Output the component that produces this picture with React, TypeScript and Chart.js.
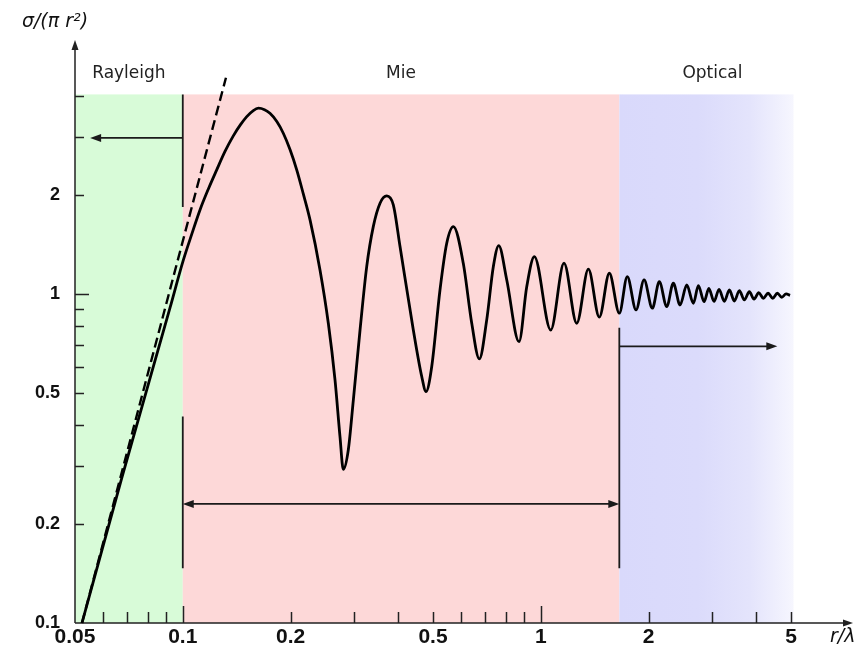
import React, { useEffect, useRef } from 'react';
import { Chart, registerables } from 'chart.js';

Chart.register(...registerables);

// ---- data ----
const curveX = [0.0523, 0.0675, 0.0921, 0.1004, 0.1059, 0.1117, 0.1179, 0.1244, 0.1312, 0.1384, 0.1448, 0.1509, 0.1574, 0.1626, 0.1692, 0.1752, 0.1831, 0.1909, 0.1993, 0.2081, 0.2171, 0.2267, 0.2417, 0.255, 0.2662, 0.2749, 0.2808, 0.29, 0.2995, 0.3127, 0.3264, 0.3405, 0.3556, 0.3713, 0.3873, 0.4044, 0.4405, 0.465, 0.478, 0.4958, 0.5229, 0.5461, 0.57, 0.6074, 0.6414, 0.6735, 0.7063, 0.737, 0.763, 0.8034, 0.8693, 0.9135, 0.9594, 1.066, 1.161, 1.26, 1.358, 1.457, 1.554, 1.657, 1.744, 1.845, 1.943, 2.049, 2.143, 2.248, 2.345, 2.449, 2.557, 2.668, 2.755, 2.858, 2.947, 3.047, 3.147, 3.256, 3.363, 3.472, 3.586, 3.703, 3.824, 3.941, 4.063, 4.184, 4.313, 4.445, 4.578, 4.71, 4.842, 4.968];
const curveY = [0.1, 0.275, 0.907, 1.269, 1.517, 1.8, 2.085, 2.383, 2.711, 3.023, 3.264, 3.459, 3.609, 3.668, 3.63, 3.539, 3.342, 3.079, 2.746, 2.383, 2.014, 1.679, 1.183, 0.8145, 0.548, 0.368, 0.293, 0.336, 0.476, 0.777, 1.211, 1.602, 1.887, 1.986, 1.865, 1.393, 0.777, 0.561, 0.505, 0.601, 1.028, 1.426, 1.602, 1.24, 0.8145, 0.6345, 0.834, 1.211, 1.402, 1.103, 0.716, 1.052, 1.298, 0.777, 1.24, 0.8145, 1.189, 0.85, 1.156, 0.874, 1.129, 0.894, 1.103, 0.905, 1.09, 0.915, 1.078, 0.926, 1.065, 0.937, 1.06, 0.9475, 1.039, 0.949, 1.033, 0.95, 1.028, 0.952, 1.023, 0.959, 1.016, 0.964, 1.009, 0.97, 1.005, 0.97, 1.005, 0.977, 1.0, 0.99];

const rayleighX = [0.0523, 0.132];
const rayleighY = [0.1, 4.54];

const regionNames = ['Rayleigh', 'Mie', 'Optical'];
const regionEdges = [0.05, 0.1, 1.657, 5.08];
const regionTop = 4.04;

const xLabelValues = [0.05, 0.1, 0.2, 0.5, 1, 2, 5];
const yLabelValues = [0.1, 0.2, 0.5, 1, 2];
const xTickMarks = [0.06, 0.07, 0.08, 0.09, 0.1, 0.2, 0.3, 0.4, 0.5, 0.6, 0.7, 0.8, 0.9, 1, 2, 3, 4, 5];
const yTickMarks = [0.2, 0.3, 0.4, 0.5, 0.6, 0.7, 0.8, 0.9, 1, 2, 3, 4];
const xLongTicks = [0.1, 1];
const yLongTicks = [1];

// guide lines (data coordinates)
const guideX = [0.1, 0.1, 1.657];
const guideY0 = [1.838, 0.1466, 0.1466];
const guideY1 = [4.04, 0.424, 0.79];
// arrows: from x0 to x1 at y; heads: 1 = end only, 2 = both ends
const arrowX0 = [0.1, 0.1, 1.657];
const arrowX1 = [0.0551, 1.657, 4.578];
const arrowYv = [2.98, 0.23, 0.693];
const arrowHeads = [1, 2, 1];

const X_MIN = 0.05;
const X_MAX = 7.4;
const Y_MIN = 0.1;
const Y_MAX = 5.83;

const regionColors = ['#d8fbd8', '#fdd8d8', '#d9d9fb'];

function arrowHead(ctx: CanvasRenderingContext2D, tx: number, ty: number, ang: number, len: number, hw: number) {
  ctx.beginPath();
  ctx.moveTo(tx, ty);
  ctx.lineTo(tx - len * Math.cos(ang) + hw * Math.sin(ang), ty - len * Math.sin(ang) - hw * Math.cos(ang));
  ctx.lineTo(tx - len * Math.cos(ang) - hw * Math.sin(ang), ty - len * Math.sin(ang) + hw * Math.cos(ang));
  ctx.closePath();
  ctx.fill();
}

const decorPlugin = {
  id: 'mieDecor',
  beforeDatasetsDraw(chart: any) {
    const { ctx, chartArea: ca, scales } = chart;
    const xs = scales.x;
    const ys = scales.y;
    const top = ys.getPixelForValue(regionTop);
    const bottom = ys.getPixelForValue(Y_MIN);
    ctx.save();
    // regions
    for (let i = 0; i < regionNames.length; i++) {
      const l = xs.getPixelForValue(regionEdges[i]);
      const r = xs.getPixelForValue(regionEdges[i + 1]);
      if (i === 2) {
        const g = ctx.createLinearGradient(l, 0, r, 0);
        g.addColorStop(0, '#d9d9fb');
        g.addColorStop(0.45, '#dbdbfb');
        g.addColorStop(0.75, '#e4e4fc');
        g.addColorStop(1, '#f6f6fe');
        ctx.fillStyle = g;
      } else {
        ctx.fillStyle = regionColors[i];
      }
      ctx.fillRect(l, top, r - l, bottom - top);
      ctx.fillStyle = '#222';
      ctx.font = '17px "DejaVu Sans", sans-serif';
      ctx.textAlign = 'center';
      ctx.textBaseline = 'middle';
      ctx.fillText(regionNames[i], (l + r) / 2 + (i === 2 ? 6 : 0), top - 21);
    }
    // axes
    ctx.strokeStyle = '#222';
    ctx.fillStyle = '#222';
    ctx.lineWidth = 1.5;
    ctx.beginPath();
    ctx.moveTo(ca.left, bottom);
    ctx.lineTo(ca.left, ca.top + 4);
    ctx.moveTo(ca.left, bottom);
    ctx.lineTo(ca.right - 4, bottom);
    ctx.stroke();
    arrowHead(ctx, ca.left, ca.top - 2, -Math.PI / 2, 10, 3.5);
    arrowHead(ctx, ca.right + 1, bottom, 0, 10, 3.5);
    // tick marks (inward)
    ctx.lineWidth = 1.5;
    ctx.beginPath();
    xTickMarks.forEach((v) => {
      const px = Math.round(xs.getPixelForValue(v)) + 0.5;
      const len = xLongTicks.includes(v) ? 17 : 11;
      ctx.moveTo(px, bottom);
      ctx.lineTo(px, bottom - len);
    });
    yTickMarks.forEach((v) => {
      const py = Math.round(ys.getPixelForValue(v)) + 0.5;
      const len = yLongTicks.includes(v) ? 14 : 9;
      ctx.moveTo(ca.left, py);
      ctx.lineTo(ca.left + len, py);
    });
    ctx.stroke();
    // axis titles
    ctx.fillStyle = '#111';
    ctx.font = 'italic 19px "DejaVu Sans", sans-serif';
    ctx.textAlign = 'center';
    ctx.textBaseline = 'middle';
    ctx.fillText('σ/(π r²)', ca.left - 20, ca.top - 20);
    ctx.textAlign = 'left';
    ctx.fillText('r/λ', ca.right - 22, bottom + 14);
    ctx.restore();
  },
  afterDatasetsDraw(chart: any) {
    const { ctx, scales } = chart;
    const xs = scales.x;
    const ys = scales.y;
    ctx.save();
    ctx.strokeStyle = '#1a1a1a';
    ctx.fillStyle = '#1a1a1a';
    ctx.lineWidth = 1.8;
    ctx.beginPath();
    for (let i = 0; i < guideX.length; i++) {
      const px = xs.getPixelForValue(guideX[i]);
      ctx.moveTo(px, ys.getPixelForValue(guideY0[i]));
      ctx.lineTo(px, ys.getPixelForValue(guideY1[i]));
    }
    ctx.stroke();
    for (let i = 0; i < arrowX0.length; i++) {
      const p0 = xs.getPixelForValue(arrowX0[i]);
      const p1 = xs.getPixelForValue(arrowX1[i]);
      const py = ys.getPixelForValue(arrowYv[i]);
      const dir = p1 > p0 ? 1 : -1;
      ctx.beginPath();
      ctx.moveTo(p0 + (arrowHeads[i] === 2 ? dir * 6 : 0), py);
      ctx.lineTo(p1 - dir * 6, py);
      ctx.stroke();
      arrowHead(ctx, p1, py, dir > 0 ? 0 : Math.PI, 11, 4);
      if (arrowHeads[i] === 2) arrowHead(ctx, p0, py, dir > 0 ? Math.PI : 0, 11, 4);
    }
    ctx.restore();
  },
};

export default function App() {
  const ref = useRef<HTMLCanvasElement>(null);
  useEffect(() => {
    if (!ref.current) return;
    const chart = new Chart(ref.current, {
      type: 'line',
      data: {
        datasets: [
          {
            label: 'sigma',
            data: curveX.map((x, i) => ({ x, y: curveY[i] })),
            borderColor: '#000',
            borderWidth: 2.8,
            pointRadius: 0,
            fill: false,
            cubicInterpolationMode: 'monotone',
          },
          {
            label: 'rayleigh',
            data: rayleighX.map((x, i) => ({ x, y: rayleighY[i] })),
            borderColor: '#000',
            borderWidth: 2.4,
            borderDash: [10, 5],
            pointRadius: 0,
            fill: false,
          },
        ],
      },
      options: {
        animation: false,
        responsive: false,
        devicePixelRatio: 1,
        clip: false,
        layout: { padding: { left: 0, right: 5, top: 42, bottom: 0 } },
        plugins: { legend: { display: false }, tooltip: { enabled: false } },
        scales: {
          x: {
            type: 'logarithmic',
            min: X_MIN,
            max: X_MAX,
            bounds: 'data',
            grid: { display: false, drawTicks: false },
            border: { display: false },
            ticks: {
              autoSkip: false,
              maxRotation: 0,
              minRotation: 0,
              padding: 2,
              color: '#111',
              font: { family: '"Liberation Sans", Arial, sans-serif', size: 21, weight: 'bold' },
              callback: (v: any) => String(v),
            },
            afterBuildTicks: (s: any) => {
              s.ticks = xLabelValues.map((v) => ({ value: v }));
            },
            afterFit: (s: any) => {
              s.height = 28;
            },
          },
          y: {
            type: 'logarithmic',
            min: Y_MIN,
            max: Y_MAX,
            bounds: 'data',
            grid: { display: false, drawTicks: false },
            border: { display: false },
            ticks: {
              autoSkip: false,
              padding: 15,
              color: '#111',
              font: { family: '"Liberation Sans", Arial, sans-serif', size: 18, weight: 'bold' },
              callback: (v: any) => String(v),
            },
            afterBuildTicks: (s: any) => {
              s.ticks = yLabelValues.map((v) => ({ value: v }));
            },
            afterFit: (s: any) => {
              s.width = 75;
            },
          },
        },
      } as any,
      plugins: [decorPlugin],
    });
    return () => chart.destroy();
  }, []);
  return (
    <div style={{ position: 'fixed', left: 0, top: 0, width: 857, height: 651, background: '#fff' }}>
      <canvas ref={ref} width={857} height={651} style={{ display: 'block' }} />
    </div>
  );
}
